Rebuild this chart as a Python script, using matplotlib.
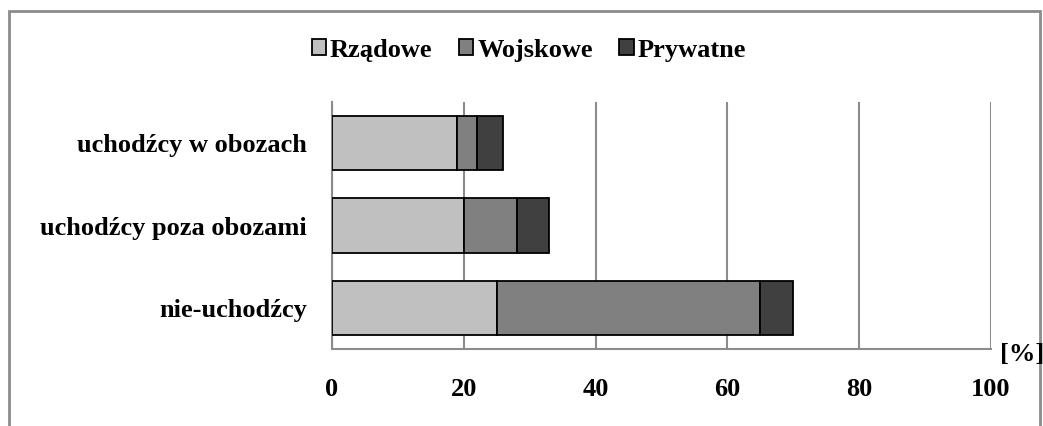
import numpy as np
import matplotlib
matplotlib.use("Agg")
from matplotlib import pyplot as plt
from matplotlib.patches import Rectangle

plt.rcParams['font.family'] = ['Liberation Serif', 'DejaVu Serif']
plt.rcParams['font.weight'] = 'bold'

kategorie = ['nie-uchodźcy', 'uchodźcy poza obozami', 'uchodźcy w obozach']
serie = ['Rządowe', 'Wojskowe', 'Prywatne']
rzadowe = [25, 20, 19]
wojskowe = [40, 8, 3]
prywatne = [5, 5, 4]
kolory = ['#C0C0C0', '#808080', '#404040']
ticki = [0, 20, 40, 60, 80, 100]

fig = plt.figure(figsize=(10.43, 4.26), dpi=100)
ax = fig.add_axes([332/1043, 77/426, 659/1043, 247/426])

# ramka wokół całego wykresu
fig.patches.append(Rectangle((9/1043, -0.1), 1031/1043, 1.1 - 11/426, transform=fig.transFigure,
                             fill=False, edgecolor='#8c8c8c', linewidth=2))

y = np.arange(len(kategorie))
lewo = np.zeros(len(kategorie))
for nazwa, wart, kol in zip(serie, [rzadowe, wojskowe, prywatne], kolory):
    ax.barh(y, wart, left=lewo, height=0.66, color=kol, edgecolor='black',
            linewidth=1.3, label=nazwa, zorder=3)
    lewo = lewo + np.array(wart)

ax.set_xlim(0, 100)
ax.set_ylim(-0.5, 2.5)
ax.set_xticks(ticki)
ax.set_xticklabels([str(t) for t in ticki])
ax.set_yticks(y)
ax.set_yticklabels(kategorie)
ax.xaxis.grid(True, color='#8c8c8c', linewidth=1.5, zorder=0)
for s in ['top', 'right']:
    ax.spines[s].set_visible(False)
for s in ['left', 'bottom']:
    ax.spines[s].set_color('#8c8c8c')
    ax.spines[s].set_linewidth(1.5)
ax.tick_params(axis='x', length=0, pad=21, labelsize=19)
ax.tick_params(axis='y', length=0, pad=18, labelsize=19)

fig.text(1022/1043, 1 - 355/426, '[%]', ha='center', va='center', fontsize=19, fontweight='bold')

fig.legend(loc='center', bbox_to_anchor=(0.507, 1 - 50/426), ncol=3, frameon=False,
           fontsize=19, handlelength=0.55, handleheight=0.55, handletextpad=0.15,
           columnspacing=1.0)

plt.savefig('out.png', dpi=100)
